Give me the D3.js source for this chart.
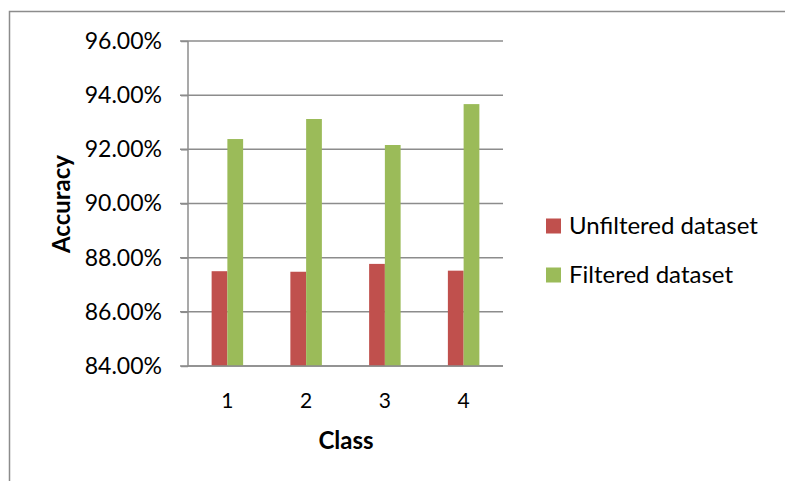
<!DOCTYPE html>
<html><head><meta charset="utf-8">
<script src="https://cdn.jsdelivr.net/npm/d3@7"></script>
<style>body{margin:0;background:#fff}svg{display:block}</style>
</head><body>
<script>
const categories = ["1","2","3","4"];
const seriesNames = ["Unfiltered dataset","Filtered dataset"];
const unfiltered = [87.50, 87.48, 87.77, 87.52];
const filtered = [92.38, 93.12, 92.16, 93.67];
const yTicks = [84,86,88,90,92,94,96];
const colors = ["#C0504D","#9BBB59"];

const W=785,H=481;
const svg=d3.select("body").append("svg").attr("width",W).attr("height",H);
const font="Lato, 'Open Sans', sans-serif";

// frame
svg.append("path").attr("d","M9.5,481 V11.5 H785").attr("fill","none").attr("stroke","#8c8c8c").attr("stroke-width",1.5);

const x0=d3.scaleBand().domain(categories).range([188,503]);
const x1=d3.scaleBand().domain(seriesNames).range([0,x0.bandwidth()]).paddingInner(0).paddingOuter(1.5);
const y=d3.scaleLinear().domain([84,96]).range([366,41]);

// gridlines
svg.append("g").selectAll("line").data(yTicks).join("line")
  .attr("x1",180).attr("x2",503).attr("y1",d=>y(d)).attr("y2",d=>y(d))
  .attr("stroke","#8c8c8c").attr("stroke-width",1.5);

// bars
const data=categories.map((c,i)=>({c,vals:[unfiltered[i],filtered[i]]}));
const g=svg.append("g");
data.forEach(d=>{
  d.vals.forEach((v,j)=>{
    g.append("rect").attr("x",x0(d.c)+x1(seriesNames[j])).attr("width",x1.bandwidth())
      .attr("y",y(v)).attr("height",y(84)-y(v)).attr("fill",colors[j]);
  });
});

// y axis
const yAxis=d3.axisLeft(y).tickValues(yTicks).tickSize(7).tickFormat(d=>d.toFixed(2)+"%");
const ya=svg.append("g").attr("transform","translate(188,0)").call(yAxis);
ya.select(".domain").attr("stroke","#8c8c8c").attr("stroke-width",1.5).attr("d","M-0,41V366");
ya.selectAll(".tick line").attr("stroke","#8c8c8c").attr("stroke-width",1.5);
ya.selectAll(".tick text").attr("x",-26).attr("font-family",font).attr("font-size",23).attr("fill","#000");

// x axis
const xAxis=d3.axisBottom(x0).tickSize(0).tickPadding(0);
const xa=svg.append("g").attr("transform","translate(0,366)").call(xAxis);
xa.select(".domain").attr("stroke","#8c8c8c").attr("stroke-width",1.5).attr("d","M188,0H503");
xa.selectAll(".tick text").attr("y",35).attr("dy","0.35em").attr("font-family",font).attr("font-size",21).attr("fill","#000");

// titles
svg.append("text").attr("x",346).attr("y",441).attr("dy","0.35em").attr("text-anchor","middle")
  .attr("font-family",font).attr("font-weight","bold").attr("font-size",24).text("Class");
svg.append("text").attr("transform","translate(62,204) rotate(-90)").attr("dy","0.35em").attr("text-anchor","middle")
  .attr("font-family",font).attr("font-weight","bold").attr("font-size",24).text("Accuracy");

// legend
const leg=svg.append("g");
seriesNames.forEach((s,i)=>{
  const cy=226+i*49;
  leg.append("rect").attr("x",546).attr("y",cy-7.5).attr("width",15).attr("height",15).attr("fill",colors[i]);
  leg.append("text").attr("x",569).attr("y",cy).attr("dy","0.35em").attr("font-family",font).attr("font-size",24).text(s);
});
</script>
</body></html>
